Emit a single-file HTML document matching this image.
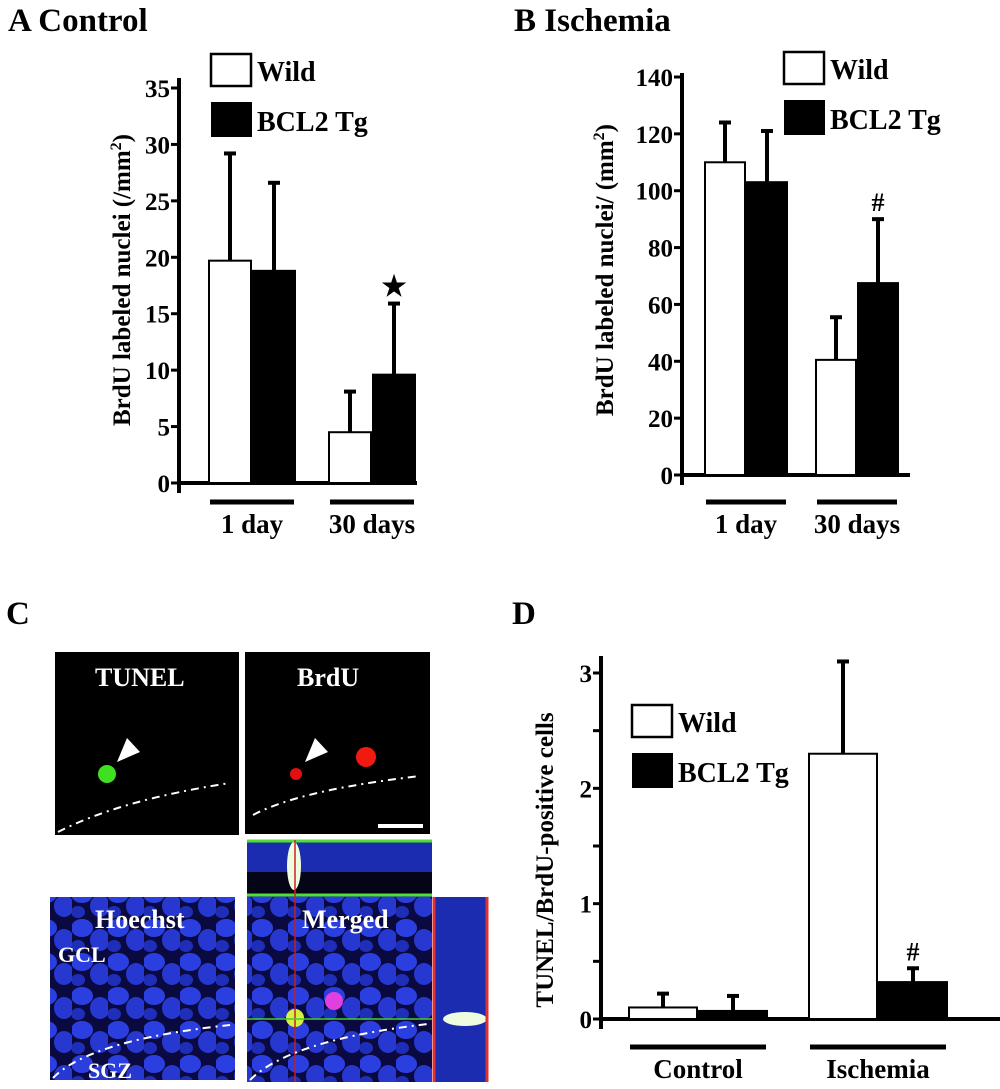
<!DOCTYPE html>
<html><head><meta charset="utf-8"><style>
body{margin:0;background:#fff;}
svg text{font-family:"Liberation Serif",serif;font-weight:bold;fill:#000;}
</style></head><body>
<svg id="fig" width="1000" height="1084" viewBox="0 0 1000 1084" xmlns="http://www.w3.org/2000/svg">
<g>
<text x="8" y="31" font-size="33">A Control</text>
<text x="514" y="31" font-size="33">B Ischemia</text>
<text x="6" y="624" font-size="33">C</text>
<text x="512" y="624" font-size="33">D</text>
</g>
<g id="chartA"></g>
<g id="chartB"></g>
<g id="chartD"></g>

<g>
 <defs>
  <filter id="bl"><feGaussianBlur stdDeviation="3"/></filter>
  <pattern id="nuc" width="36" height="34" patternUnits="userSpaceOnUse">
   <rect width="36" height="34" fill="#0a0a40"/>
   <ellipse cx="10" cy="10" rx="11" ry="9" fill="#2b3fe0"/>
   <ellipse cx="28" cy="22" rx="10" ry="11" fill="#2638d0"/>
   <ellipse cx="6" cy="28" rx="7" ry="6" fill="#1e2eb8"/>
  </pattern>
 </defs>
 <g>
  <rect x="55" y="652" width="184" height="183" fill="#000"/>
  <text x="95" y="686" font-size="26" style="fill:#fff">TUNEL</text>
  <circle cx="107" cy="774" r="9" fill="#3fe020"/>
  <polygon points="127,738 117,762 140,752" fill="#fff"/>
  <path d="M58,832 Q120,800 230,783" stroke="#fff" stroke-width="2" stroke-dasharray="8,5,2,5" fill="none"/>
 </g>
 <g>
  <rect x="245" y="652" width="185" height="182" fill="#000"/>
  <text x="297" y="686" font-size="26" style="fill:#fff">BrdU</text>
  <circle cx="296" cy="774" r="6" fill="#e01010"/>
  <circle cx="366" cy="757" r="10" fill="#f01a10"/>
  <polygon points="315,738 305,762 328,752" fill="#fff"/>
  <path d="M253,815 Q300,790 420,776" stroke="#fff" stroke-width="2" stroke-dasharray="8,5,2,5" fill="none"/>
  <rect x="378" y="824" width="45" height="4" fill="#fff"/>
 </g>
 <g>
  <rect x="247" y="840" width="185" height="57" fill="#1c2cb0"/>
  <rect x="247" y="872" width="185" height="22" fill="#050518"/>
  <ellipse cx="294" cy="866" rx="7" ry="24" fill="#eefce0"/>
  <line x1="247" y1="841" x2="432" y2="841" stroke="#50e030" stroke-width="3"/>
  <line x1="247" y1="895" x2="432" y2="895" stroke="#50e030" stroke-width="3"/>
  <line x1="295" y1="840" x2="295" y2="897" stroke="#d02020" stroke-width="1.5"/>
 </g>
 <g>
  <rect x="50" y="897" width="185" height="183" fill="url(#nuc)"/>
  <text x="95" y="928" font-size="26" style="fill:#fff">Hoechst</text>
  <text x="58" y="962" font-size="22" style="fill:#fff">GCL</text>
  <text x="88" y="1078" font-size="22" style="fill:#fff">SGZ</text>
  <path d="M53,1078 Q90,1040 230,1025" stroke="#fff" stroke-width="2" stroke-dasharray="8,5,2,5" fill="none"/>
 </g>
 <g>
  <rect x="247" y="897" width="185" height="185" fill="url(#nuc)"/>
  <text x="302" y="928" font-size="26" style="fill:#fff">Merged</text>
  <circle cx="295" cy="1018" r="9" fill="#d8f040"/>
  <circle cx="334" cy="1001" r="9" fill="#e040e0"/>
  <line x1="295" y1="897" x2="295" y2="1082" stroke="#c02020" stroke-width="1.5"/>
  <line x1="247" y1="1019" x2="432" y2="1019" stroke="#40d030" stroke-width="1.5"/>
  <path d="M250,1080 Q290,1040 428,1024" stroke="#fff" stroke-width="2" stroke-dasharray="8,5,2,5" fill="none"/>
 </g>
 <g>
  <rect x="433" y="897" width="55" height="185" fill="#1c2cb0"/>
  <ellipse cx="465" cy="1019" rx="22" ry="7" fill="#eefce0"/>
  <line x1="434" y1="897" x2="434" y2="1082" stroke="#e03030" stroke-width="3"/>
  <line x1="487" y1="897" x2="487" y2="1082" stroke="#e03030" stroke-width="3"/>
 </g>
</g>
</svg>
<script>
// Panel A data
const catsA = ["1 day", "30 days"];
const wildA = [19.7, 4.5];
const bclA = [18.8, 9.6];
const wildErrA = [29.2, 8.1];
const bclErrA = [26.6, 15.9];
const ticksA = [0, 5, 10, 15, 20, 25, 30, 35];
// Panel B data
const catsB = ["1 day", "30 days"];
const wildB = [110, 40.5];
const bclB = [103, 67.5];
const wildErrB = [124, 55.5];
const bclErrB = [121, 90];
const ticksB = [0, 20, 40, 60, 80, 100, 120, 140];
// Panel D data
const catsD = ["Control", "Ischemia"];
const wildD = [0.1, 2.3];
const bclD = [0.07, 0.32];
const wildErrD = [0.22, 3.1];
const bclErrD = [0.2, 0.44];
const ticksD = [0, 1, 2, 3];

const NS = "http://www.w3.org/2000/svg";
function mk(parent, tag, attrs) {
  const e = document.createElementNS(NS, tag);
  for (const k in attrs) e.setAttribute(k, attrs[k]);
  parent.appendChild(e);
  return e;
}

function drawChart(g, cfg) {
  const y = v => cfg.y0 - (v - 0) / cfg.vmax * (cfg.y0 - cfg.ytop);
  // axis
  const ax = mk(g, "line", {x1: cfg.ax, y1: cfg.axTop, x2: cfg.ax, y2: cfg.y0 + 10, stroke: "#000", "stroke-width": 4});
  
  
  const base = mk(g, "line", {x1: cfg.ax, y1: cfg.y0, x2: cfg.baseEnd, y2: cfg.y0, stroke: "#000", "stroke-width": 4});
  
  
  cfg.ticks.forEach(t => {
    const tl = mk(g, "line", {x1: cfg.ax - 8, y1: y(t), x2: cfg.ax, y2: y(t), stroke: "#000", "stroke-width": 3});
    
    
    const tx = mk(g, "text", {x: cfg.ax - 9, y: y(t) + 9, "text-anchor": "end", "font-size": 25});
    tx.textContent = t;
    
    
  });
  if (cfg.minor) cfg.minor.forEach(t => {
    const tl = mk(g, "line", {x1: cfg.ax - 8, y1: y(t), x2: cfg.ax, y2: y(t), stroke: "#000", "stroke-width": 3});
    
    
  });
  cfg.cats.forEach((c, i) => {
    const gx = cfg.groupX[i];
    [[cfg.wild, cfg.wErr, "#fff", 0], [cfg.bcl, cfg.bErr, "#000", 1]].forEach(([vals, errs, fill, k]) => {
      const x = gx + k * cfg.bw;
      const cx = x + cfg.bw / 2;
      const el = mk(g, "line", {x1: cx, y1: y(vals[i]), x2: cx, y2: y(errs[i]), stroke: "#000", "stroke-width": 4});
      
      
      const cap = mk(g, "line", {x1: cx - 6, y1: y(errs[i]), x2: cx + 6, y2: y(errs[i]), stroke: "#000", "stroke-width": 4});
      
      
      const r = mk(g, "rect", {x: x + 1, y: y(vals[i]), width: cfg.bw - 2, height: cfg.y0 - y(vals[i]), fill: fill, stroke: "#000", "stroke-width": 2});
      
      
      if (cfg.mark && cfg.mark[i] && k === 1) {
        const m = mk(g, "text", {x: cx, y: y(errs[i]) - 8, "text-anchor": "middle", "font-size": cfg.markSize || 26});
        m.textContent = cfg.mark[i];
        
        
      }
    });
    const gl = mk(g, "line", {x1: gx + 2, y1: cfg.gy, x2: gx + 2 * cfg.bw - 2, y2: cfg.gy, stroke: "#000", "stroke-width": 5});
    
    
    const lt = mk(g, "text", {x: gx + cfg.bw, y: cfg.gy + 31, "text-anchor": "middle", "font-size": 27});
    lt.textContent = c;
    
    
  });
  // legend
  const l1 = mk(g, "rect", {x: cfg.lx, y: cfg.ly, width: 40, height: 32, fill: "#fff", stroke: "#000", "stroke-width": 2.5});
  
  
  const t1 = mk(g, "text", {x: cfg.lx + 46, y: cfg.ly + 27, "font-size": 28});
  t1.textContent = "Wild";
  
  
  const l2 = mk(g, "rect", {x: cfg.lx, y: cfg.ly + 48, width: 41, height: 35, fill: "#000"});
  
  
  const t2 = mk(g, "text", {x: cfg.lx + 46, y: cfg.ly + 77, "font-size": 28});
  t2.textContent = "BCL2 Tg";
  
  
  // y title
  const yt = mk(g, "text", {x: 0, y: 0, "text-anchor": "middle", "font-size": 25, transform: `translate(${cfg.tx},${cfg.ty}) rotate(-90)`});
  if (cfg.sup) {
    yt.appendChild(document.createTextNode(cfg.title));
    const s = mk(yt, "tspan", {dy: -9, "font-size": 16}); s.textContent = "2";
    const e = mk(yt, "tspan", {dy: 9}); e.textContent = ")";
  } else yt.textContent = cfg.title;
  
  
}

drawChart(document.getElementById("chartA"), {
  cats: catsA, wild: wildA, bcl: bclA, wErr: wildErrA, bErr: bclErrA, ticks: ticksA,
  ax: 179, y0: 483, ytop: 88, vmax: 35, axTop: 78, baseEnd: 417,
  groupX: [208, 328], bw: 44, gy: 502, mark: [null, "★"], markSize: 28,
  lx: 211, ly: 54, tx: 130, ty: 280, title: "BrdU labeled nuclei (/mm", sup: true
});
drawChart(document.getElementById("chartB"), {
  cats: catsB, wild: wildB, bcl: bclB, wErr: wildErrB, bErr: bclErrB, ticks: ticksB,
  ax: 682, y0: 475, ytop: 77, vmax: 140, axTop: 73, baseEnd: 910,
  groupX: [704, 815], bw: 42, gy: 502, mark: [null, "#"],
  lx: 784, ly: 52, tx: 613, ty: 270, title: "BrdU labeled nuclei/ (mm", sup: true
});
drawChart(document.getElementById("chartD"), {
  cats: catsD, wild: wildD, bcl: bclD, wErr: wildErrD, bErr: bclErrD, ticks: ticksD,
  minor: [0.5, 1.5, 2.5],
  ax: 601, y0: 1019, ytop: 673, vmax: 3, axTop: 656, baseEnd: 1000,
  groupX: [628, 808], bw: 70, gy: 1047, mark: [null, "#"],
  lx: 632, ly: 705, tx: 553, ty: 860, title: "TUNEL/BrdU-positive cells", sup: false
});
</script>
</body></html>
